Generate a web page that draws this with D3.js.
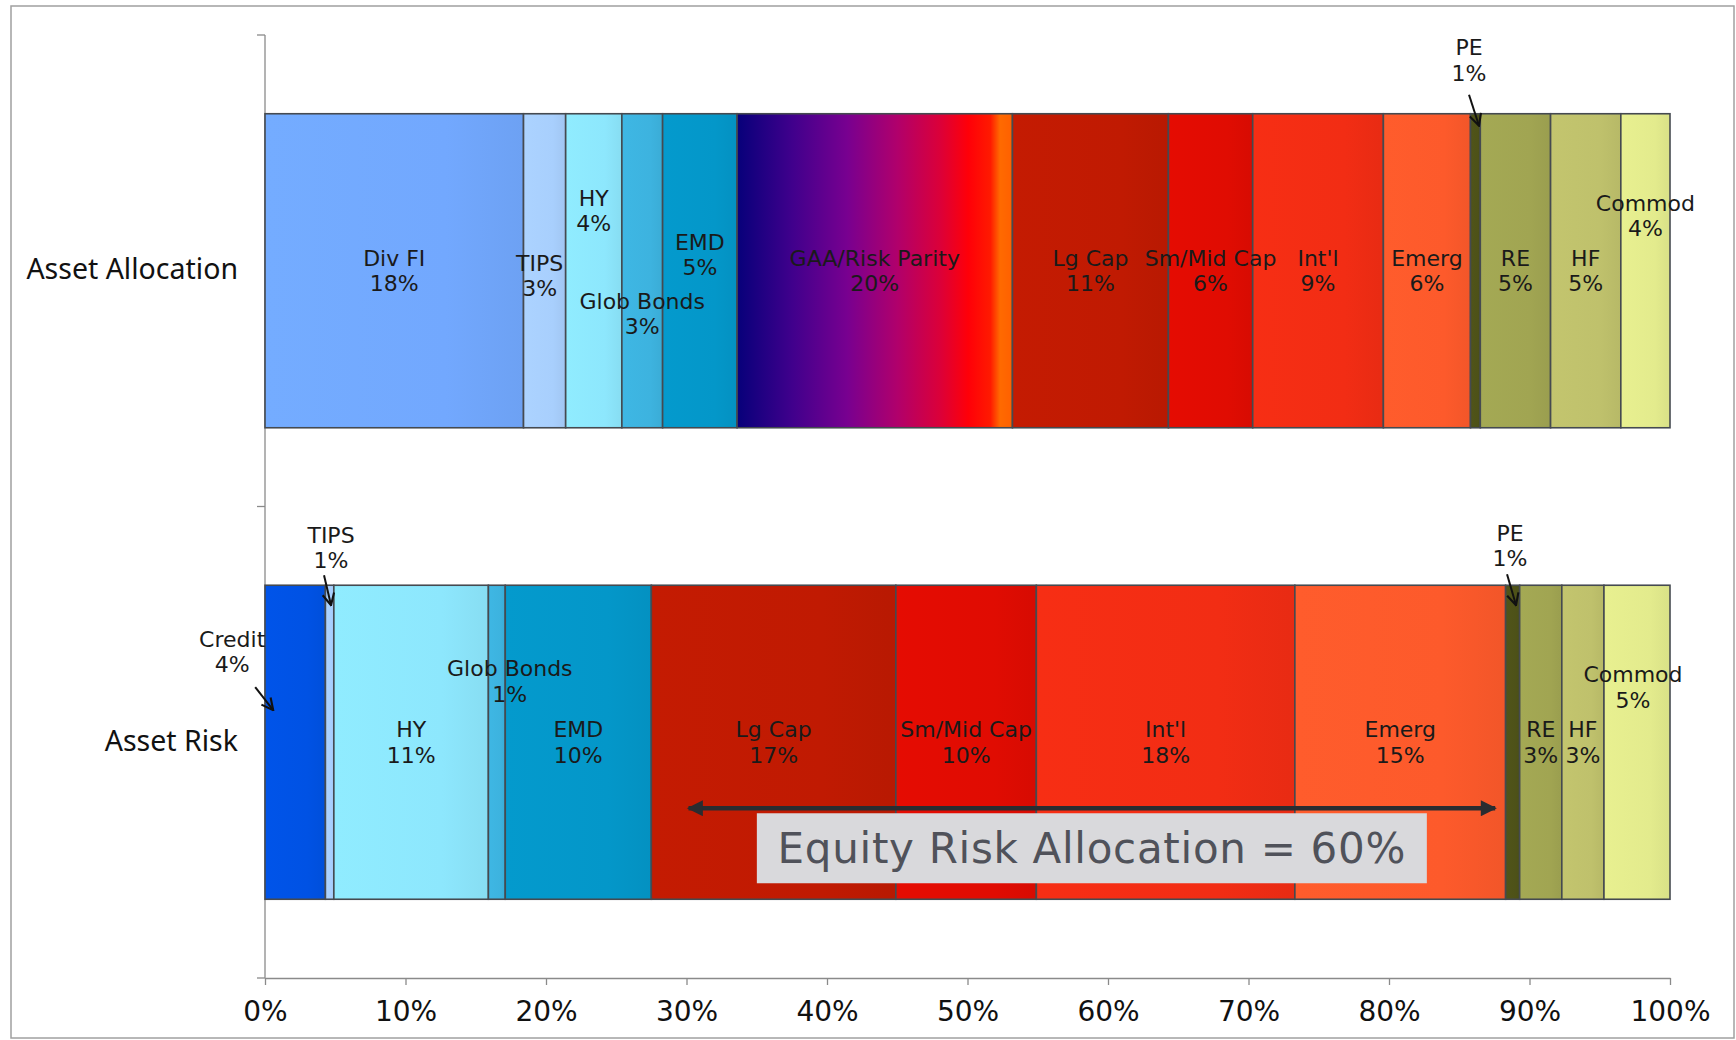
<!DOCTYPE html>
<html><head><meta charset="utf-8">
<script src="https://cdn.jsdelivr.net/npm/d3@7"></script>
<style>body{margin:0;background:#fff;} svg{display:block;}</style>
</head><body>
<svg id="chart" width="1736" height="1040"></svg>
<script>
// ---------------- DATA ----------------
const categories = ["Asset Allocation", "Asset Risk"];
const allocNames = ["Div FI","TIPS","HY","Glob Bonds","EMD","GAA/Risk Parity","Lg Cap","Sm/Mid Cap","Int'l","Emerg","PE","RE","HF","Commod"];
const allocValues = [18.4, 3.0, 4.0, 2.9, 5.3, 19.6, 11.1, 6.0, 9.3, 6.2, 0.7, 5.0, 5.0, 3.5];
const riskNames = ["Credit","TIPS","HY","Glob Bonds","EMD","Lg Cap","Sm/Mid Cap","Int'l","Emerg","PE","RE","HF","Commod"];
const riskValues = [4.3, 0.6, 11.0, 1.2, 10.4, 17.4, 10.0, 18.4, 15.0, 1.0, 3.0, 3.0, 4.7];
const xTicks = [0, 10, 20, 30, 40, 50, 60, 70, 80, 90, 100];
const equityRiskLabel = "Equity Risk Allocation = 60%";
const equityRiskSpan = [30, 87.7];

// ---------------- STYLE ----------------
const colors = {
  "Div FI": "#72a8fe", "Credit": "#0052e4", "TIPS": "#a8cffd", "HY": "#8de7fd",
  "Glob Bonds": "#3db3df", "EMD": "#0497c9", "Lg Cap": "#c01a02", "Sm/Mid Cap": "#e00c02",
  "Int'l": "#f22d14", "Emerg": "#fd5a2b", "PE": "#4e5218", "RE": "#a1a552",
  "HF": "#bfc16c", "Commod": "#e3eb8d"
};
// label placement tweaks (px) keyed by row index then name
const labelTweaks = [
  { "HY": {dy: -60}, "Glob Bonds": {dy: 43}, "EMD": {dy: -16}, "TIPS": {dx: -5, dy: 5}, "Commod": {dy: -55},
    "PE": {outside: true, dx: -6.4, cyTop: -53, arrow: [-6.4, -19, 3.6, 12]} },
  { "Glob Bonds": {dx: 13, dy: -61}, "Commod": {dx: -4, dy: -55},
    "Credit": {outside: true, dx: -63, cyTop: 67, arrow: [-40, 102, -22, 125]},
    "TIPS": {outside: true, dx: 1.4, cyTop: -37, arrow: [-5.6, -10, 1.4, 20]},
    "PE": {outside: true, dx: -2.6, cyTop: -39, arrow: [-5.6, -11, 3.4, 20]} }
];

const svg = d3.select("#chart");
const labelFont = "'DejaVu Sans', Verdana, sans-serif";

// frame
svg.append("rect").attr("x", 11).attr("y", 6).attr("width", 1723).attr("height", 1032)
  .attr("fill", "#fff").attr("stroke", "#a0a0a0").attr("stroke-width", 1.5);

const x = d3.scaleLinear().domain([0, 100]).range([265, 1670]);
const y = d3.scaleBand().domain(categories).range([35, 978]).paddingInner(0).paddingOuter(0);
const barFrac = 0.666;

const defs = svg.append("defs");
// GAA gradient
const gaa = defs.append("linearGradient").attr("id", "gaaGrad").attr("x1", "0").attr("x2", "1").attr("y1", "0").attr("y2", "0");
[[0, "#07007a"], [0.2, "#40008c"], [0.4, "#780090"], [0.58, "#b0006c"], [0.74, "#dc0038"],
 [0.84, "#ff0008"], [0.92, "#ff1a00"], [0.955, "#ff6a00"], [1, "#ff6000"]]
  .forEach(([o, c]) => gaa.append("stop").attr("offset", o).attr("stop-color", c));

function segGrad(name) {
  const id = "g_" + name.replace(/[^a-zA-Z]/g, "");
  if (!defs.select("#" + id).empty()) return id;
  const c = d3.color(colors[name]);
  const g = defs.append("linearGradient").attr("id", id).attr("x1", "0").attr("x2", "1").attr("y1", "0").attr("y2", "0");
  g.append("stop").attr("offset", 0).attr("stop-color", c.brighter(0.06).formatHex());
  g.append("stop").attr("offset", 0.7).attr("stop-color", c.formatHex());
  g.append("stop").attr("offset", 1).attr("stop-color", c.darker(0.12).formatHex());
  return id;
}

// arrow markers
defs.append("marker").attr("id", "openArrow").attr("viewBox", "0 0 12 12").attr("refX", 11).attr("refY", 6)
  .attr("markerWidth", 14).attr("markerHeight", 14).attr("markerUnits", "userSpaceOnUse").attr("orient", "auto")
  .append("path").attr("d", "M1,1 L11,6 L1,11").attr("fill", "none").attr("stroke", "#111").attr("stroke-width", 1.8);
defs.append("marker").attr("id", "solidArrow").attr("viewBox", "0 0 10 10").attr("refX", 9).attr("refY", 5)
  .attr("markerWidth", 18).attr("markerHeight", 16).attr("markerUnits", "userSpaceOnUse").attr("orient", "auto-start-reverse")
  .append("path").attr("d", "M0,0 L10,5 L0,10 z").attr("fill", "#2a2c30");

// axes
const yAxisG = svg.append("g").attr("stroke", "#8a8a8a").attr("stroke-width", 1.3);
yAxisG.append("line").attr("x1", x(0)).attr("x2", x(0)).attr("y1", y.range()[0]).attr("y2", y.range()[1]);
const bounds = categories.map(c => y(c)).concat([y.range()[1]]);
yAxisG.selectAll("line.t").data(bounds).join("line").attr("class", "t")
  .attr("x1", x(0) - 8).attr("x2", x(0)).attr("y1", d => d).attr("y2", d => d);

const xAxis = d3.axisBottom(x).tickValues(xTicks).tickFormat(d => d + "%").tickSize(7).tickSizeOuter(0).tickPadding(16);
const xg = svg.append("g").attr("transform", `translate(0,${y.range()[1]})`).call(xAxis);
xg.select(".domain").attr("stroke", "#8a8a8a").attr("stroke-width", 1.3);
xg.selectAll(".tick line").attr("stroke", "#8a8a8a").attr("stroke-width", 1.3);
xg.selectAll(".tick text").attr("font-family", labelFont).attr("font-size", 28).attr("fill", "#111");

// category labels
svg.selectAll("text.cat").data(categories).join("text").attr("class", "cat")
  .attr("x", 238).attr("y", d => y(d) + y.bandwidth() / 2 - 2.5)
  .attr("text-anchor", "end").attr("dominant-baseline", "central")
  .attr("font-family", "'Noto Sans', 'Open Sans', sans-serif").attr("font-size", 28.5).attr("fill", "#111")
  .text(d => d);

// bars
const rows = [
  { cat: categories[0], names: allocNames, values: allocValues },
  { cat: categories[1], names: riskNames, values: riskValues }
];
const lineH = 25.5;
rows.forEach((row, ri) => {
  const bh = y.bandwidth() * barFrac;
  const top = y(row.cat) + (y.bandwidth() - bh) / 2;
  const cy = top + bh / 2;
  const ends = d3.cumsum(row.values);
  const segs = row.names.map((n, i) => ({ name: n, v: row.values[i], x0: i ? ends[i - 1] : 0, x1: ends[i] }));
  const g = svg.append("g");
  g.selectAll("rect").data(segs).join("rect")
    .attr("x", d => x(d.x0)).attr("y", top)
    .attr("width", d => x(d.x1) - x(d.x0)).attr("height", bh)
    .attr("fill", d => d.name === "GAA/Risk Parity" ? "url(#gaaGrad)" : `url(#${segGrad(d.name)})`)
    .attr("stroke", "#454a50").attr("stroke-width", 1.6);

  const tw = labelTweaks[ri];
  segs.forEach(d => {
    const t = tw[d.name] || {};
    const scx = (x(d.x0) + x(d.x1)) / 2;
    const lx = scx + (t.dx || 0);
    const ly = t.outside ? top + t.cyTop : cy + (t.dy || 0);
    const txt = g.append("text").attr("text-anchor", "middle").attr("font-family", labelFont)
      .attr("font-size", 22).attr("fill", "#1a1a1a");
    txt.append("tspan").attr("x", lx).attr("y", ly - lineH / 2).attr("dominant-baseline", "central").text(d.name);
    txt.append("tspan").attr("x", lx).attr("y", ly + lineH / 2).attr("dominant-baseline", "central").text(Math.round(d.v) + "%");
    if (t.arrow) {
      g.append("line").attr("x1", scx + t.arrow[0]).attr("y1", top + t.arrow[1])
        .attr("x2", scx + t.arrow[2]).attr("y2", top + t.arrow[3])
        .attr("stroke", "#111").attr("stroke-width", 2).attr("marker-end", "url(#openArrow)");
    }
  });

  if (ri === 1) {
    const bottom = top + bh;
    const ay = bottom - 91;
    svg.append("line").attr("x1", x(equityRiskSpan[0]) + 2).attr("x2", x(equityRiskSpan[1]) - 2)
      .attr("y1", ay).attr("y2", ay).attr("stroke", "#2a2c30").attr("stroke-width", 4.5)
      .attr("marker-start", "url(#solidArrow)").attr("marker-end", "url(#solidArrow)");
    const mid = x((equityRiskSpan[0] + equityRiskSpan[1]) / 2);
    const bw = 670, bxh = 70;
    svg.append("rect").attr("x", mid - bw / 2).attr("y", ay + 5).attr("width", bw).attr("height", bxh)
      .attr("fill", "#d9d9dc");
    svg.append("text").attr("x", mid).attr("y", ay + 5 + bxh / 2).attr("text-anchor", "middle")
      .attr("dominant-baseline", "central").attr("font-family", labelFont).attr("font-size", 42)
      .attr("letter-spacing", 0.7).attr("fill", "#50525a").text(equityRiskLabel);
  }
});
</script>
</body></html>
